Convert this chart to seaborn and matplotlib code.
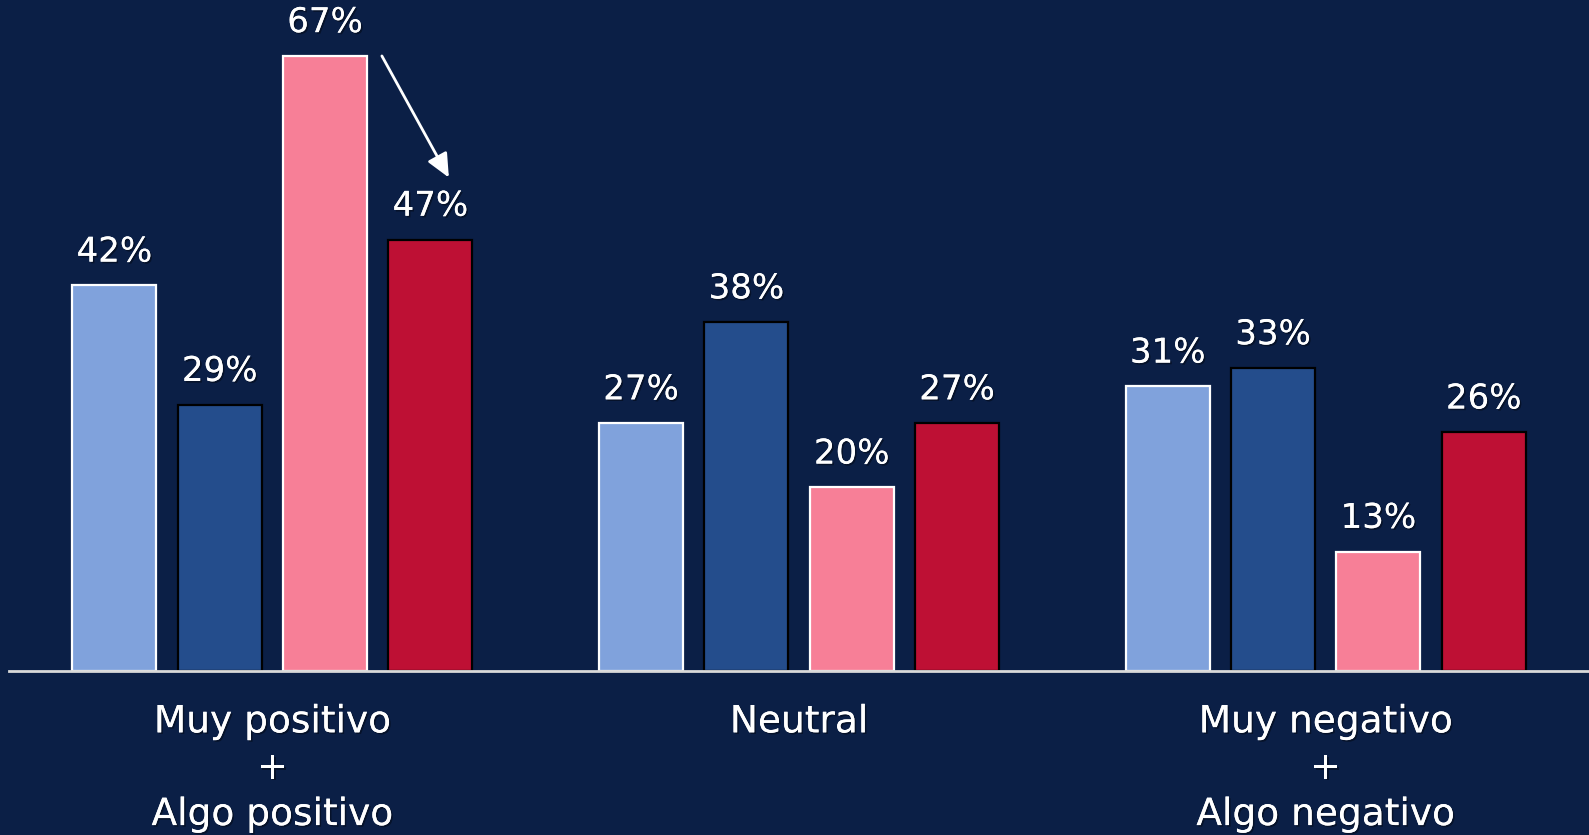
import matplotlib
matplotlib.use("Agg")
import matplotlib.pyplot as plt
import matplotlib.patheffects as pe
import seaborn as sns
import pandas as pd

categories = ["Muy positivo\n+\nAlgo positivo", "Neutral", "Muy negativo\n+\nAlgo negativo"]
series = ["Serie 1", "Serie 2", "Serie 3", "Serie 4"]
values = {
    "Serie 1": [42, 27, 31],
    "Serie 2": [29, 38, 33],
    "Serie 3": [67, 20, 13],
    "Serie 4": [47, 27, 26],
}
colors = ["#80A2DC", "#244D8C", "#F77F97", "#BE1034"]
edges = ["white", "black", "white", "black"]
bg = "#0B1F46"

rows = []
for s in series:
    for c, v in zip(categories, values[s]):
        rows.append({"cat": c, "serie": s, "val": v})
df = pd.DataFrame(rows)

sns.set_theme(style="white")
plt.rcParams["font.family"] = ["DejaVu Sans"]

W, H = 1589, 835
base = 671
fig = plt.figure(figsize=(W / 100, H / 100), dpi=100, facecolor=bg)
ax = fig.add_axes([9 / W, (H - base) / H, (W - 9) / W, base / H])
ax.set_facecolor(bg)

sns.barplot(data=df, x="cat", y="val", hue="serie", order=categories,
            hue_order=series, palette=colors, gap=0.2, width=0.8,
            legend=False, ax=ax, saturation=1)

def shadow():
    return [pe.withSimplePatchShadow(offset=(1.2, -1.2), shadow_rgbFace="black", alpha=0.4), pe.Normal()]

for cont, ec, s in zip(ax.containers, edges, series):
    for bar, v in zip(cont, values[s]):
        bar.set_edgecolor(ec)
        bar.set_linewidth(1.6)
        ax.annotate(f"{v}%", (bar.get_x() + bar.get_width() / 2, v),
                    xytext=(0, 24), textcoords="offset points",
                    ha="center", va="center", color="white", fontsize=24.5,
                    path_effects=shadow())

# arrow from series 3 to series 4 in first group
b3 = ax.containers[2][0]
b4 = ax.containers[3][0]
x0 = b3.get_x() + b3.get_width() + 0.028
x1 = b4.get_x() + b4.get_width() * 0.72
ax.annotate("", xy=(x1, values["Serie 4"][0] + 6.75), xytext=(x0, values["Serie 3"][0]),
            arrowprops=dict(arrowstyle="-|>,head_length=1.2,head_width=0.55",
                            color="white", lw=2, shrinkA=0, shrinkB=0))

ax.set_xlim(-0.5, 2.5)
ax.set_ylim(0, base / 9.18)
ax.set_xlabel("")
ax.set_ylabel("")
ax.set_yticks([])
for sp in ["top", "right", "left"]:
    ax.spines[sp].set_visible(False)
ax.spines["bottom"].set_color("#D9D9D9")
ax.spines["bottom"].set_linewidth(2)
ax.tick_params(axis="x", length=0, pad=24, colors="white", labelsize=27)
for lbl in ax.get_xticklabels():
    lbl.set_linespacing(1.37)
    lbl.set_path_effects(shadow())

fig.savefig("out.png", dpi=100, facecolor=bg)
